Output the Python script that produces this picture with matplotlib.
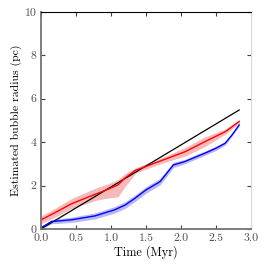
import matplotlib
matplotlib.use("Agg")
import matplotlib.pyplot as plt
import numpy as np

plt.rcParams["font.family"] = ["cmr10", "DejaVu Serif"]
plt.rcParams["mathtext.fontset"] = "cm"
plt.rcParams["axes.formatter.use_mathtext"] = True

# black reference line
t_ref = [0.0, 2.83]
r_ref = [0.0, 5.48]

# red series (mean and band half-widths)
t_red = [0.0, 0.2, 0.43, 0.62, 0.81, 0.95, 1.1, 1.2, 1.35, 1.49, 1.77, 2.06, 2.34, 2.63, 2.83]
r_red = [0.42, 0.75, 1.15, 1.4, 1.64, 1.82, 2.03, 2.35, 2.7, 2.87, 3.21, 3.56, 4.02, 4.48, 4.95]
e_red_lo = [0.18, 0.2, 0.22, 0.26, 0.3, 0.4, 0.55, 0.4, 0.14, 0.12, 0.14, 0.2, 0.22, 0.12, 0.08]
e_red_hi = [0.18, 0.2, 0.24, 0.26, 0.28, 0.25, 0.25, 0.2, 0.12, 0.12, 0.14, 0.2, 0.22, 0.12, 0.08]

# blue series
t_blue = [0.0, 0.15, 0.43, 0.77, 1.05, 1.2, 1.34, 1.5, 1.7, 1.89, 2.05, 2.22, 2.34, 2.5, 2.63, 2.72, 2.83]
r_blue = [0.05, 0.34, 0.42, 0.6, 0.88, 1.1, 1.41, 1.8, 2.18, 2.95, 3.1, 3.33, 3.49, 3.72, 3.95, 4.3, 4.79]
e_blue = [0.05, 0.1, 0.12, 0.14, 0.15, 0.15, 0.15, 0.15, 0.15, 0.12, 0.1, 0.1, 0.1, 0.1, 0.08, 0.06, 0.05]

fig = plt.figure(figsize=(2.66, 2.70), dpi=100)
ax = fig.add_axes([0.154, 0.152, 0.79, 0.804])

t_red = np.array(t_red)
r_red = np.array(r_red)
ax.fill_between(t_red, r_red - np.array(e_red_lo), r_red + np.array(e_red_hi),
                color="#f08080", alpha=0.55, lw=0)
t_blue = np.array(t_blue)
r_blue = np.array(r_blue)
ax.fill_between(t_blue, r_blue - np.array(e_blue), r_blue + np.array(e_blue),
                color="#7070e8", alpha=0.5, lw=0)

ax.plot(t_ref, r_ref, color="black", lw=0.9)
ax.plot(t_red, r_red, color="red", lw=1.0)
ax.plot(t_blue, r_blue, color="blue", lw=1.0)

ax.set_xlim(0, 3.0)
ax.set_ylim(0, 10)
ax.set_xticks([0.0, 0.5, 1.0, 1.5, 2.0, 2.5, 3.0])
ax.set_xticklabels(["0.0", "0.5", "1.0", "1.5", "2.0", "2.5", "3.0"])
ax.set_yticks([0, 2, 4, 6, 8, 10])
ax.set_yticklabels(["0", "2", "4", "6", "8", "10"])
ax.tick_params(direction="in", length=3, width=0.8, top=True, right=True,
               labelsize=8.5, colors="0.25", pad=3)
for lbl in ax.get_xticklabels() + ax.get_yticklabels():
    lbl.set_color("0.3")

ax.spines["left"].set_color("0.45")
ax.spines["left"].set_linewidth(1.3)
ax.spines["bottom"].set_color("0.45")
ax.spines["bottom"].set_linewidth(1.3)
ax.spines["top"].set_color("black")
ax.spines["right"].set_color("0.85")

ax.set_xlabel("Time (Myr)", fontsize=8.8, labelpad=2)
ax.set_ylabel("Estimated bubble radius (pc)", fontsize=8.5, labelpad=2)

fig.savefig("out.png", dpi=100)
